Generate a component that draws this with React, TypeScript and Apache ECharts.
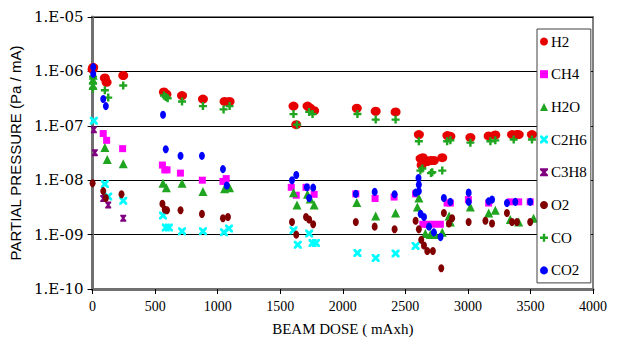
import React, { useEffect, useRef } from "react";
import * as echarts from "echarts";

const xTicks = [0, 500, 1000, 1500, 2000, 2500, 3000, 3500, 4000];
const seriesNames = ["H2", "CH4", "H2O", "C2H6", "C3H8", "O2", "CO", "CO2"];

const h2: number[][] = [
  [5, 1.19e-6], [0, 1.1e-6], [98, 7.6e-7], [112, 6.3e-7], [245, 8.4e-7], [570, 4.2e-7], [590, 3.8e-7],
  [715, 3.6e-7], [882, 3.1e-7], [1055, 2.8e-7], [1095, 2.8e-7], [1606, 2.3e-7], [1628, 1.05e-7],
  [1718, 2.3e-7], [1740, 2.1e-7], [1771, 1.9e-7], [2112, 2.1e-7], [2263, 1.85e-7], [2422, 1.8e-7],
  [2608, 6.9e-8], [2622, 2.5e-8], [2640, 2.6e-8], [2675, 2.2e-8], [2700, 2.3e-8], [2728, 2.3e-8],
  [2795, 2.6e-8], [2630, 1.9e-8], [2836, 6.6e-8], [2860, 6.4e-8], [3020, 6.1e-8], [3166, 6.5e-8],
  [3219, 6.8e-8], [3353, 6.9e-8], [3390, 6.9e-8], [3406, 6.9e-8], [3512, 6.9e-8],
];
const ch4: number[][] = [
  [85, 7.2e-8], [112, 5.4e-8], [240, 3.8e-8], [558, 1.9e-8], [577, 1.55e-8], [595, 1.55e-8],
  [702, 1.35e-8], [877, 1.0e-8], [1042, 9.5e-9], [1068, 1.07e-8], [1588, 7.4e-9], [1628, 5.3e-9],
  [1706, 7.4e-9], [1771, 5.5e-9], [2104, 5.6e-9], [2258, 4.6e-9], [2410, 4.9e-9], [2582, 5.6e-9],
  [2640, 1.55e-9], [2675, 1.55e-9], [2728, 1.55e-9], [2780, 1.55e-9], [2834, 3.8e-9], [2860, 3.8e-9],
  [3004, 4.4e-9], [3166, 3.8e-9], [3339, 4.0e-9], [3406, 4.0e-9], [3498, 4.0e-9],
];
const h2o: number[][] = [
  [3, 5.5e-7], [3, 7e-7], [5, 8.5e-7], [98, 4.0e-8], [117, 2.4e-8], [245, 2.0e-8], [563, 8.8e-9],
  [590, 7.3e-9], [715, 8.8e-9], [882, 6.2e-9], [1055, 7e-9], [1095, 7.3e-9], [1606, 5.9e-9],
  [1634, 3.5e-9], [1718, 5.5e-9], [1740, 4.5e-9], [1771, 3.5e-9], [2112, 3.9e-9], [2263, 2.2e-9],
  [2422, 2.5e-9], [2596, 3.2e-9], [2608, 4.7e-9], [2660, 1.05e-9], [2700, 1.0e-9], [2740, 1.0e-9],
  [2795, 1.1e-9], [2850, 2.2e-9], [2860, 1.7e-9], [3020, 3.2e-9], [3166, 2.5e-9], [3219, 2.8e-9],
  [3339, 1.9e-9], [3406, 1.7e-9], [3525, 2.0e-9],
];
const c2h6: number[][] = [
  [10, 1.24e-7], [98, 8.5e-9], [125, 5.0e-9], [245, 4.2e-9], [563, 2.25e-9], [585, 1.35e-9],
  [610, 1.35e-9], [715, 1.15e-9], [882, 1.15e-9], [1050, 1.1e-9], [1090, 1.3e-9], [1606, 1.2e-9],
  [1640, 6.5e-10], [1731, 1.05e-9], [1758, 7e-10], [1785, 7e-10], [2117, 4.6e-10], [2263, 3.7e-10],
  [2422, 4.5e-10], [2582, 6.2e-10],
];
const c3h8: number[][] = [
  [10, 8.5e-8], [18, 3.2e-8], [85, 4.6e-9], [125, 3.5e-9], [245, 2.0e-9],
];
const o2: number[][] = [
  [0, 8.8e-9], [85, 6.3e-9], [106, 4.7e-9], [231, 5.5e-9], [558, 3.7e-9], [577, 2.9e-9], [595, 2.8e-9],
  [703, 2.8e-9], [874, 2.4e-9], [1042, 2.0e-9], [1082, 2.1e-9], [1594, 1.7e-9], [1628, 1.0e-9],
  [1706, 2.1e-9], [1731, 1.9e-9], [1763, 1.55e-9], [2104, 1.7e-9], [2255, 1.4e-9], [2414, 1.25e-9],
  [2582, 1.8e-9], [2608, 1.25e-9], [2627, 8e-10], [2649, 6.3e-10], [2675, 5e-10], [2720, 5e-10],
  [2787, 2.4e-10], [2808, 2.5e-9], [2848, 1.6e-9], [2874, 2.0e-9], [3006, 1.7e-9], [3140, 1.8e-9],
  [3193, 1.6e-9], [3312, 2.5e-9], [3353, 1.7e-9], [3392, 1.7e-9], [3498, 1.7e-9],
];
const co: number[][] = [
  [3, 8e-7], [3, 6e-7], [3, 4.8e-7], [98, 4.5e-7], [125, 3.3e-7], [245, 5.5e-7], [570, 3.6e-7],
  [585, 3.4e-7], [600, 3.2e-7], [715, 2.8e-7], [882, 2.3e-7], [1047, 2.0e-7], [1095, 2.3e-7],
  [1606, 1.64e-7], [1634, 1.05e-7], [1731, 1.8e-7], [1758, 1.65e-7], [2117, 1.65e-7], [2263, 1.3e-7],
  [2422, 1.3e-7], [2608, 5.2e-8], [2620, 1.5e-8], [2636, 1.64e-8], [2705, 1.35e-8], [2715, 1.4e-8],
  [2795, 1.5e-8], [2834, 5.2e-8], [2860, 5.4e-8], [3020, 4.9e-8], [3180, 5.2e-8], [3219, 5.4e-8],
  [3366, 5.6e-8], [3512, 5.6e-8],
];
const co2: number[][] = [
  [5, 1.2e-6], [5, 9e-7], [85, 3.1e-7], [106, 2.3e-7], [563, 1.6e-7], [585, 3.7e-8], [703, 2.8e-8],
  [874, 2.8e-8], [1042, 1.6e-8], [1073, 8e-9], [1594, 1.0e-8], [1628, 1.25e-8], [1713, 7.4e-9],
  [1763, 7.3e-9], [1731, 4.7e-9], [2104, 5.6e-9], [2255, 6.1e-9], [2414, 5.5e-9], [2582, 5.9e-9],
  [2605, 1.1e-8], [2608, 8.3e-9], [2608, 6.3e-9], [2622, 2.4e-9], [2649, 2.1e-9], [2689, 1.4e-9],
  [2728, 1.1e-9], [2781, 9e-10], [2808, 4.7e-9], [2860, 4e-9], [3006, 5.9e-9], [3006, 4e-9],
  [3166, 4.1e-9], [3193, 4.4e-9], [3312, 3.8e-9], [3379, 4.0e-9], [3498, 4e-9],
];

const seriesData = [h2, ch4, h2o, c2h6, c3h8, o2, co, co2];

const X_PATH =
  "path://M0,0 L2.5,0 L5,2.5 L7.5,0 L10,0 L10,2.5 L7.5,5 L10,7.5 L10,10 L7.5,10 L5,7.5 L2.5,10 L0,10 L0,7.5 L2.5,5 L0,2.5 Z";
const PLUS_PATH =
  "path://M3.5,0 L6.5,0 L6.5,3.5 L10,3.5 L10,6.5 L6.5,6.5 L6.5,10 L3.5,10 L3.5,6.5 L0,6.5 L0,3.5 L3.5,3.5 Z";
const HOUR_PATH = "path://M0,0 L10,0 L10,2 L7,5 L10,8 L10,10 L0,10 L0,8 L3,5 L0,2 Z";

const styles = [
  { color: "#e60000", symbol: "circle", size: [10, 9] },
  { color: "#ff00ff", symbol: "rect", size: [7, 7] },
  { color: "#1fa51f", symbol: "triangle", size: [9, 9] },
  { color: "#00ffff", symbol: X_PATH, size: [8, 8] },
  { color: "#800080", symbol: HOUR_PATH, size: [6, 7] },
  { color: "#800000", symbol: "circle", size: [6, 8] },
  { color: "#1fa51f", symbol: PLUS_PATH, size: [8, 8] },
  { color: "#0000ff", symbol: "circle", size: [6, 8] },
];

function fmtY(v: number): string {
  const e = Math.round(Math.log10(v));
  const s = Math.abs(e) < 10 ? "0" + Math.abs(e) : String(Math.abs(e));
  return "1.E" + (e < 0 ? "-" : "+") + s;
}

export default function App() {
  const ref = useRef<HTMLDivElement>(null);
  useEffect(() => {
    document.body.style.margin = "0";
    const chart = echarts.init(ref.current!, null, { renderer: "svg" });
    chart.setOption({
      animation: false,
      backgroundColor: "#ffffff",
      grid: {
        left: 91,
        right: 24,
        top: 17,
        bottom: 49,
        show: true,
        borderColor: "#808080",
        borderWidth: 2,
      },
      legend: {
        orient: "vertical",
        left: 537,
        top: 29,
        padding: [5, 4, 5, 3],
        itemGap: 17.7,
        itemWidth: 8,
        itemHeight: 8,
        backgroundColor: "#ffffff",
        borderColor: "#404040",
        borderWidth: 1,
        borderRadius: 0,
        textStyle: { fontFamily: "Liberation Serif", fontSize: 15, color: "#000", padding: [0, 0, 0, -2] },
        data: seriesNames,
      },
      xAxis: {
        type: "value",
        min: 0,
        max: 4000,
        interval: 500,
        name: "BEAM DOSE ( mAxh)",
        nameLocation: "middle",
        nameGap: 32,
        nameTextStyle: { fontFamily: "Times New Roman", fontSize: 15, color: "#000" },
        axisLine: { show: true, onZero: false, lineStyle: { color: "#707070", width: 3 } },
        axisTick: { show: true, length: 5, lineStyle: { color: "#000", width: 1 } },
        axisLabel: {
          margin: 10,
          fontFamily: "serif",
          fontSize: 14,
          color: "#000",
          formatter: (v: number) => (xTicks.includes(v) ? String(v) : ""),
        },
        splitLine: { show: false },
      },
      yAxis: {
        type: "log",
        logBase: 10,
        min: 1e-10,
        max: 1e-5,
        name: "PARTIAL PRESSURE (Pa / mA)",
        nameLocation: "middle",
        nameGap: 62,
        nameTextStyle: { fontFamily: "Liberation Sans", fontSize: 15, color: "#000" },
        axisLine: { show: true, onZero: false, lineStyle: { color: "#707070", width: 3 } },
        axisTick: { show: true, length: 5, lineStyle: { color: "#000", width: 1 } },
        axisLabel: {
          margin: 9,
          fontFamily: "DejaVu Serif",
          fontSize: 15,
          color: "#000",
          formatter: (v: number) => fmtY(v),
        },
        splitLine: { show: true, lineStyle: { color: "#000", width: 1 } },
      },
      series: seriesNames.map((name, i) => ({
        name,
        type: "scatter",
        data: seriesData[i],
        symbol: styles[i].symbol,
        symbolSize: styles[i].size,
        itemStyle: { color: styles[i].color, opacity: 1 },
        emphasis: { disabled: true },
      })),
    });
    return () => chart.dispose();
  }, []);
  return <div ref={ref} style={{ width: 617, height: 341 }} />;
}
